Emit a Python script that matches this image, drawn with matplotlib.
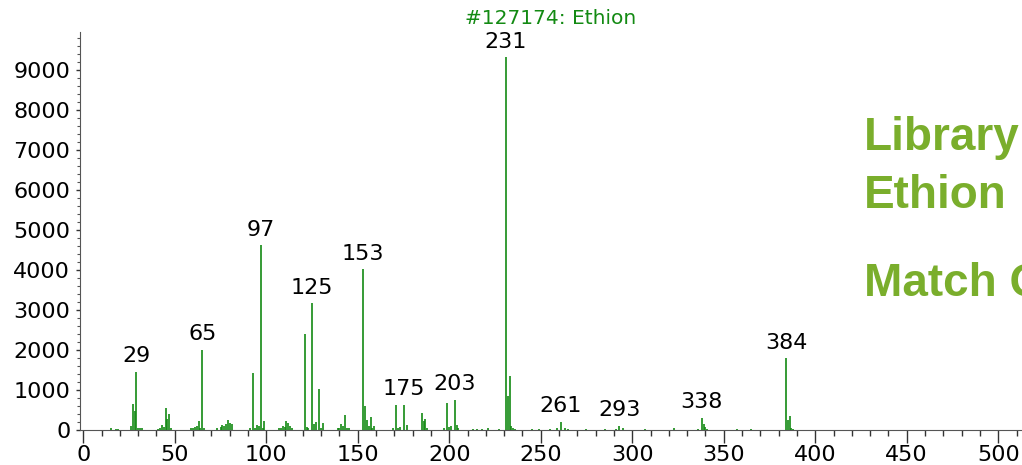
import matplotlib
matplotlib.use("Agg")
import matplotlib.pyplot as plt
from matplotlib.ticker import MultipleLocator

plt.rcParams['font.family'] = ['DejaVu Sans']

# mass spectrum of Ethion (m/z, abundance)
mz = [15, 18, 19,
      26, 27, 28, 29, 30, 31, 32,
      41, 42, 43, 44, 45, 46, 47, 48,
      59, 60, 61, 62, 63, 64, 65, 66,
      73, 75, 76, 77, 78, 79, 80, 81,
      91, 93, 94, 95, 96, 97, 98, 99,
      107, 108, 109, 110, 111, 112, 113, 114,
      121, 122, 123, 125, 126, 127, 129, 130, 131,
      139, 140, 141, 142, 143, 144, 145,
      153, 154, 155, 156, 157, 158, 159,
      169, 171, 172, 173, 175, 177,
      185, 186, 187, 188,
      197, 199, 200, 201, 203, 204, 205,
      213, 215, 218, 221, 227,
      231, 232, 233, 234, 235, 236,
      245, 249, 255, 259, 261, 263, 265,
      275, 285, 291, 293, 295,
      307, 323, 336, 338, 339, 340, 341,
      357, 365, 384, 385, 386, 387, 388]
abundance = [40, 30, 30,
             100, 650, 480, 1460, 40, 40, 40,
             30, 60, 120, 80, 560, 270, 400, 50,
             40, 60, 80, 90, 230, 40, 2000, 60,
             40, 80, 120, 110, 140, 240, 180, 150,
             60, 1420, 40, 130, 110, 4620, 60, 230,
             60, 40, 110, 80, 220, 170, 110, 40,
             2400, 80, 40, 3170, 150, 190, 1020, 40, 170,
             40, 60, 150, 100, 380, 50, 40,
             4020, 590, 250, 100, 330, 60, 110,
             40, 630, 60, 80, 630, 130,
             430, 220, 280, 40,
             60, 670, 80, 100, 750, 130, 60,
             20, 20, 20, 40, 30,
             9320, 860, 1360, 90, 60, 30,
             30, 20, 20, 40, 200, 40, 20,
             20, 20, 30, 110, 40,
             20, 60, 30, 310, 150, 80, 30,
             20, 20, 1790, 260, 340, 60, 30]

labeled_peaks = [29, 65, 97, 125, 153, 175, 203, 231, 261, 293, 338, 384]

title = "#127174: Ethion"
side_text = ["Library", "Ethion", "Match Q"]

fig = plt.figure(figsize=(10.22, 4.65), dpi=100)
ax = fig.add_axes([80 / 1022, 35 / 465, 1 - 80 / 1022, (430 - 32) / 465])

ax.vlines(mz, 0, abundance, color='#138a13', linewidth=1.2)

for m in labeled_peaks:
    v = abundance[mz.index(m)]
    ax.annotate(str(m), (m, v), xytext=(0, 4), textcoords='offset points',
                ha='center', va='bottom', fontsize=16, color='black')

ax.set_xlim(-1.8, 513)
ax.set_ylim(0, 9950)

ax.xaxis.set_major_locator(MultipleLocator(50))
ax.xaxis.set_minor_locator(MultipleLocator(10))
ax.yaxis.set_major_locator(MultipleLocator(1000))
ax.yaxis.set_minor_locator(MultipleLocator(200))

ax.tick_params(axis='x', which='major', length=9, width=1, labelsize=16, pad=2, color='#333333')
ax.tick_params(axis='x', which='minor', length=4, width=1, color='#333333')
ax.tick_params(axis='y', which='major', length=3, width=1, labelsize=16, pad=4, color='#333333')
ax.tick_params(axis='y', which='minor', length=2, width=0.8, color='#555555')

ax.spines['top'].set_visible(False)
ax.spines['right'].set_visible(False)
ax.spines['left'].set_color('#555555')
ax.spines['bottom'].set_color('#555555')

ax.set_title(title, fontsize=14.5, color='#138a13', pad=6)

green = '#7aae2c'
side_font = ['Liberation Sans', 'DejaVu Sans']
fig.text(864 / 1022, 1 - 150 / 465, side_text[0], fontsize=33, fontweight='bold', color=green, family=side_font)
fig.text(864 / 1022, 1 - 208 / 465, side_text[1], fontsize=33, fontweight='bold', color=green, family=side_font)
fig.text(864 / 1022, 1 - 296 / 465, side_text[2], fontsize=33, fontweight='bold', color=green, family=side_font)

fig.savefig("out.png", dpi=100)
